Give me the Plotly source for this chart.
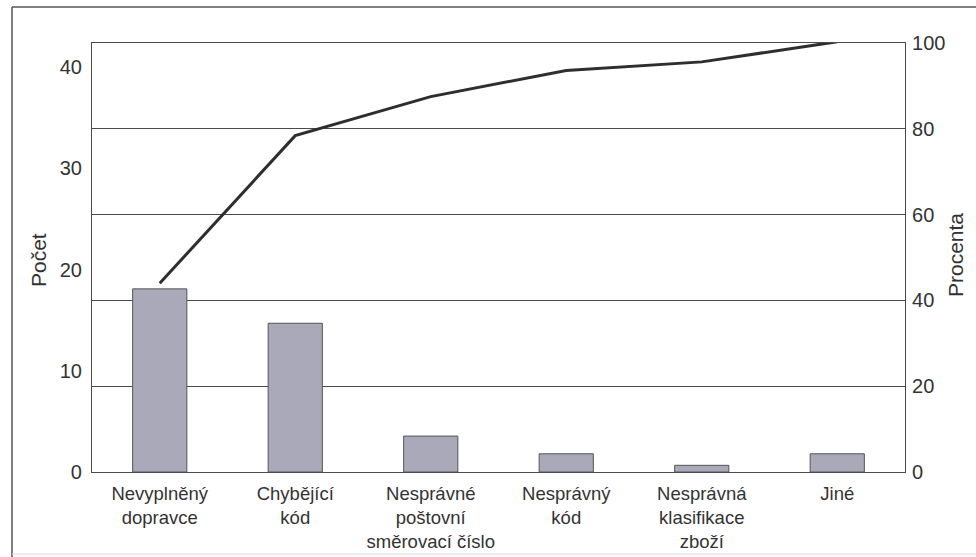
import plotly.graph_objects as go

categories = [
    "Nevyplněný<br>dopravce",
    "Chybějící<br>kód",
    "Nesprávné<br>poštovní<br>směrovací číslo",
    "Nesprávný<br>kód",
    "Nesprávná<br>klasifikace<br>zboží",
    "Jiné",
]
counts = [18.1, 14.7, 3.55, 1.8, 0.66, 1.8]
cumulative_pct = [44.0, 78.4, 87.5, 93.6, 95.6, 100.3]
left_ticks = [0, 10, 20, 30, 40]
right_ticks = [0, 20, 40, 60, 80, 100]

FONT = "Liberation Sans, Arial, sans-serif"
INK = "#333333"
GRID = "#4a4a4a"

fig = go.Figure()
fig.add_trace(go.Bar(
    x=categories, y=counts, width=0.4,
    marker=dict(color="#a9a9b9", line=dict(color="#555555", width=1)),
    yaxis="y", showlegend=False,
))
fig.add_trace(go.Scatter(
    x=categories, y=cumulative_pct, mode="lines",
    line=dict(color="#2e2e2e", width=3),
    yaxis="y2", showlegend=False,
))

W, H = 976, 557
L, R, T, B = 92, 905, 43, 472
pw, ph = R - L, B - T

def px(x):
    return (x - L) / pw

def py(y):
    return (B - y) / ph

fig.update_layout(
    width=W, height=H, autosize=False,
    margin=dict(l=L, r=W - R, t=T, b=H - B, pad=0, autoexpand=False),
    paper_bgcolor="white", plot_bgcolor="white",
    font=dict(family=FONT, color=INK, size=20),
    xaxis=dict(
        type="category", range=[-0.5, 5.5], automargin=False,
        showline=True, linecolor=GRID, linewidth=1.2, mirror=True,
        showgrid=False, ticks="", tickfont=dict(size=18.5),
        ticklabelstandoff=5, fixedrange=True,
    ),
    yaxis=dict(
        range=[0, 42.4], tickvals=left_ticks, automargin=False,
        showline=True, linecolor=GRID, linewidth=1.2,
        showgrid=False, zeroline=False, ticks="",
        tickfont=dict(size=20), ticklabelstandoff=5,
    ),
    yaxis2=dict(
        overlaying="y", side="right", range=[0, 100], tickvals=right_ticks,
        automargin=False,
        showline=True, linecolor=GRID, linewidth=1.2,
        showgrid=True, gridcolor=GRID, gridwidth=1.2, zeroline=False,
        ticks="", tickfont=dict(size=20), ticklabelstandoff=2,
    ),
    annotations=[
        dict(text="Počet", x=px(38), y=py(260), xref="paper", yref="paper",
             xanchor="center", yanchor="middle",
             textangle=-90, showarrow=False, font=dict(size=21, color=INK)),
        dict(text="Procenta", x=px(955), y=py(255), xref="paper", yref="paper",
             xanchor="center", yanchor="middle",
             textangle=-90, showarrow=False, font=dict(size=21, color=INK)),
    ],
    shapes=[
        dict(type="line", xref="paper", yref="paper", x0=px(12), x1=px(12),
             y0=py(7), y1=py(557), line=dict(color="#555555", width=1.5)),
        dict(type="line", xref="paper", yref="paper", x0=px(12), x1=px(976),
             y0=py(7), y1=py(7), line=dict(color="#555555", width=1.5)),
        dict(type="line", xref="paper", yref="paper", x0=px(12), x1=px(976),
             y0=py(554), y1=py(554), line=dict(color="#dddddd", width=1)),
    ],
)

fig.write_html(
    "out.html",
    config={"displayModeBar": False},
    post_script="document.body.style.margin='0';document.body.style.overflow='hidden';",
)
